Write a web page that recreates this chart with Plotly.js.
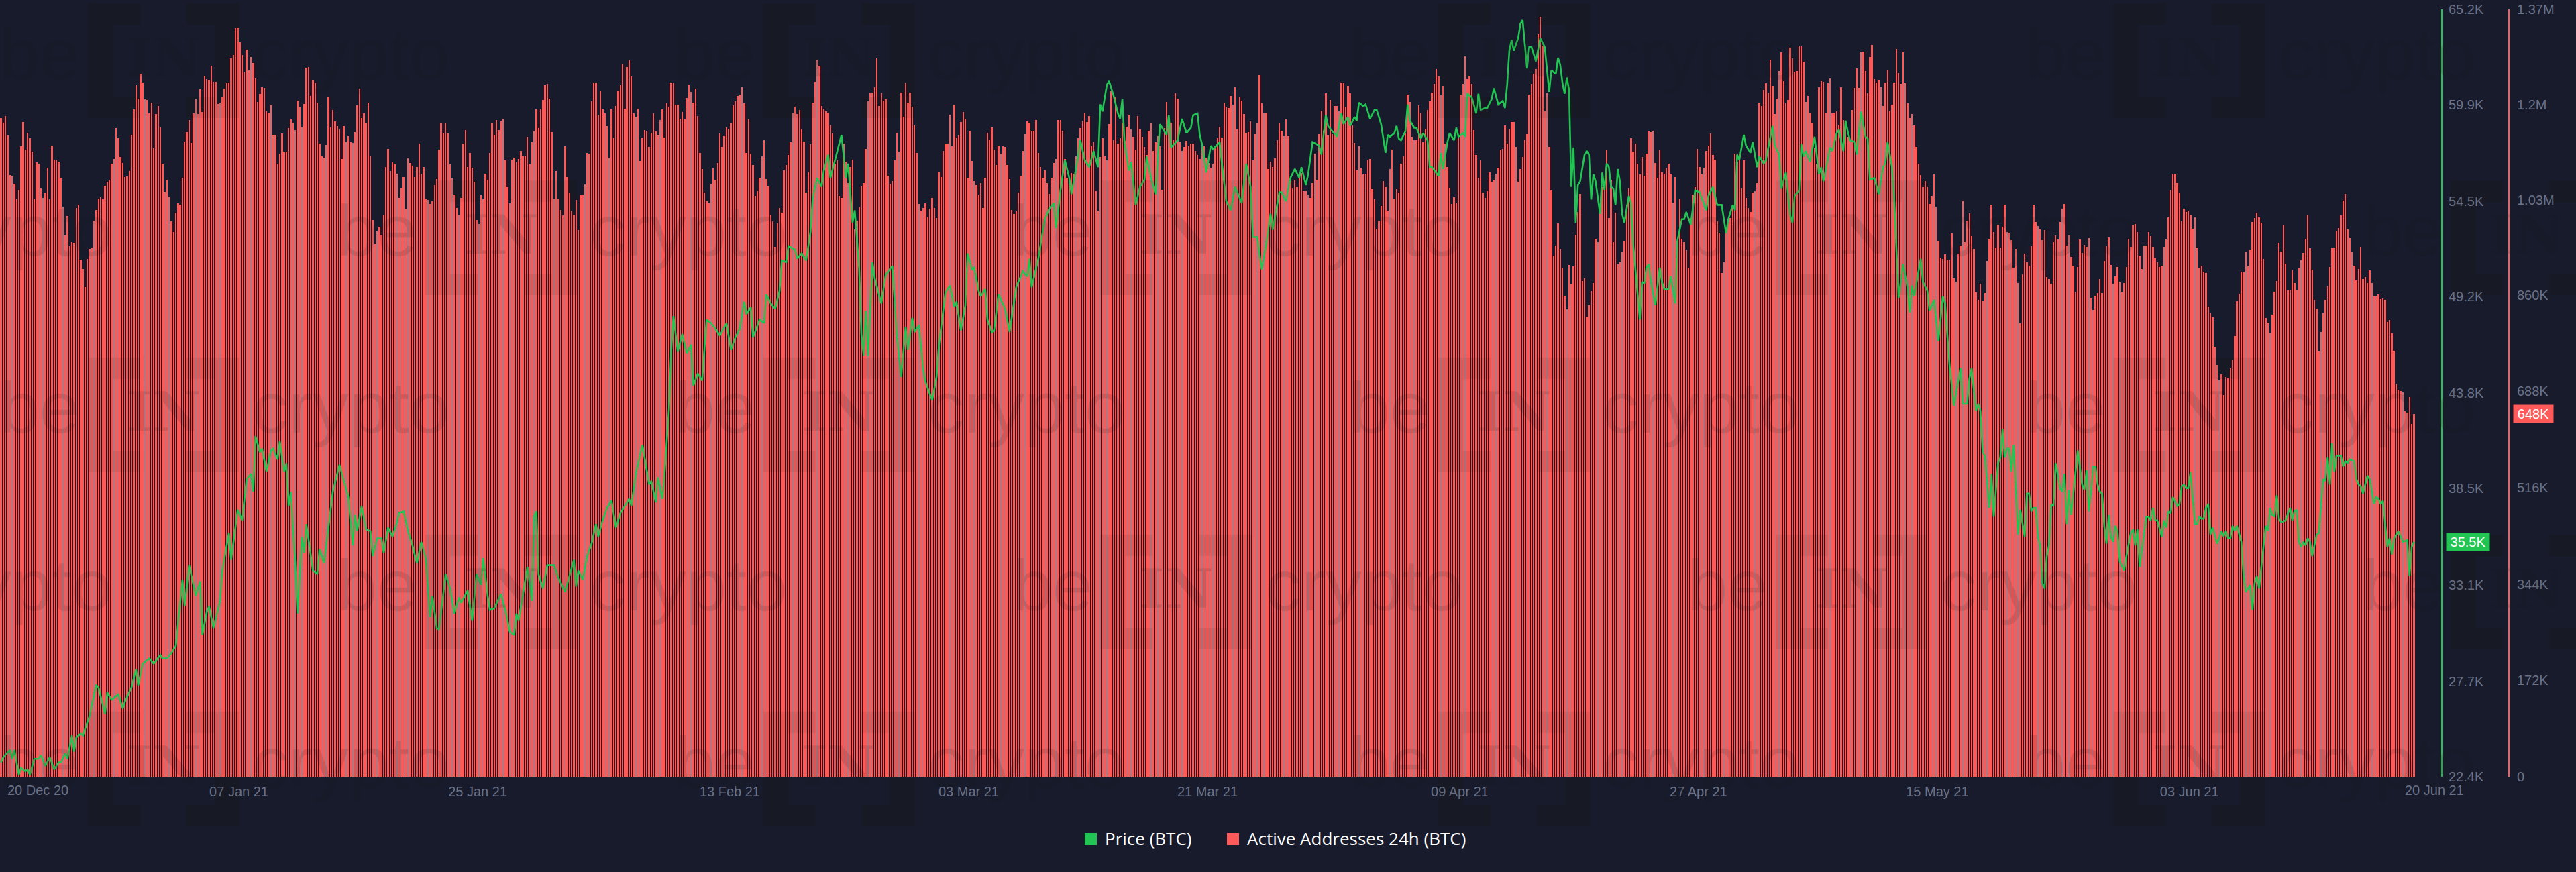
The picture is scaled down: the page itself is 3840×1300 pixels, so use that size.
<!DOCTYPE html>
<html><head><meta charset="utf-8">
<script src="https://cdn.plot.ly/plotly-3.0.1.min.js"></script>
<style>html,body{margin:0;padding:0;background:#171b2c}</style></head>
<body><div id="chart" style="width:3840px;height:1300px"></div>
<script>
const startDate = Date.UTC(2020, 11, 20);
const barHours = 4;
const seriesPrice = "Price (BTC)";
const seriesAddresses = "Active Addresses 24h (BTC)";
const activeAddressesK = [
1176,1168,1180,1145,1074,1073,1059,1031,1048,1126,1169,1120,1150,1140,1116,1031,1097,1094,1050,1033,1042,1087,1031,1127,1101,1102,1098,1069,1017,967,1001,947,954,953,1015,1021,923,906,874,925,942,945,993,1012,1032,1035,1031,1055,1062,1065,1095,1103,1158,1140,1106,1096,1071,1072,1081,1146,1191,1235,1211,1255,1239,1209,1208,1184,1204,1122,1183,1198,1159,1095,1044,1066,1036,992,972,1007,1024,1022,1069,1133,1151,1172,1132,1184,1210,1183,1227,1187,1251,1245,1243,1269,1241,1241,1201,1203,1214,1229,1240,1239,1282,1289,1337,1338,1311,1289,1258,1298,1261,1285,1274,1247,1205,1219,1231,1230,1188,1186,1200,1146,1146,1095,1112,1148,1116,1116,1158,1174,1168,1154,1207,1195,1161,1201,1266,1267,1215,1243,1239,1204,1130,1109,1105,1128,1214,1159,1190,1170,1162,1156,1103,1162,1134,1144,1133,1132,1151,1199,1229,1176,1184,1167,1203,1109,994,951,974,982,966,1004,1089,1121,1081,1097,1095,1077,1034,1052,1071,1013,1104,1096,1091,1071,1089,1130,1076,1088,1032,1030,1023,1028,1056,1067,1120,1167,1148,1166,1148,1093,1068,1039,1015,1003,1033,1131,1155,1089,1114,1087,1062,994,987,1038,1031,1077,1066,1114,1166,1146,1173,1154,1170,1175,1100,1053,1024,1102,1105,1097,1103,1117,1109,1108,1142,1093,1133,1153,1191,1158,1192,1208,1235,1237,1211,1151,1032,1081,1032,1012,1002,1126,1071,1042,1010,1004,1030,976,1038,1040,1058,1114,1113,1206,1239,1239,1181,1224,1191,1184,1162,1105,1191,1140,1197,1224,1235,1272,1193,1267,1279,1250,1184,1178,1193,1099,1140,1154,1152,1124,1150,1184,1152,1146,1172,1191,1141,1202,1195,1239,
1238,1200,1200,1175,1187,1174,1212,1236,1223,1204,1229,1180,1114,1085,1043,1029,1024,1059,1086,1066,1096,1149,1125,1144,1159,1157,1166,1199,1206,1215,1218,1231,1202,1114,1174,1112,1092,1037,1046,1070,1108,1137,1067,1054,1004,991,946,988,1015,1007,1082,1092,1110,1133,1185,1196,1183,1190,1156,1134,1043,1079,1129,1203,1241,1280,1269,1198,1192,1188,1185,1163,1149,1094,1101,1037,1034,1130,1098,1060,1089,1102,977,993,1017,1054,1060,1121,1206,1220,1221,1231,1283,1198,1220,1207,1209,1073,1057,1064,1100,1150,1116,1222,1178,1238,1203,1221,1196,1163,1114,1023,1011,1016,1024,999,1014,1033,1015,997,1080,1071,1117,1130,1130,1182,1126,1200,1141,1145,1169,1187,1175,1070,1153,1099,1063,1056,1038,1060,1015,1070,1150,1138,1159,1120,1092,1127,1113,1126,1124,1092,1067,1012,1005,1009,1043,1073,1117,1147,1170,1168,1153,1153,1173,1114,1088,1069,1082,1060,1041,1070,1096,1103,1172,1173,1153,1103,1069,1057,1078,1077,1108,1140,1158,1170,1185,1169,1179,1126,1133,1046,1009,1107,1140,1108,1101,1165,1224,1137,1213,1130,1140,1167,1135,1160,1182,1156,1142,1119,1179,1156,1142,1125,1110,1153,1167,1117,1133,1144,1126,1048,1158,1205,1167,1168,1136,1220,1211,1133,1117,1124,1135,1126,1131,1131,1117,1110,1103,1124,1126,1105,1096,1087,1094,1126,1140,1160,1141,1204,1195,1194,1215,1199,1231,1156,1214,1207,1183,1150,1151,1170,1101,1147,1166,1253,1202,1185,1185,1085,1098,1089,1104,1137,1167,1153,1144,1174,1144,1063,1050,1066,1053,1071,1078,1046,1046,1038,1034,1060,1112,1066,1147,1189,1153,1220,1145,1208,1147,1197,1197,
1188,1240,1238,1195,1234,1220,1163,1132,1082,1126,1086,1076,1075,1101,1103,1049,1031,978,993,1019,1063,1053,1011,1085,1120,1032,1049,1043,1094,1108,1149,1218,1205,1142,1137,1137,1199,1186,1133,1157,1190,1206,1222,1237,1263,1250,1217,1234,1131,1089,1052,1023,1035,1024,1140,1218,1237,1286,1246,1252,1237,1155,1110,1070,1100,1043,1034,1045,1079,1062,1066,1075,1087,1119,1121,1163,1130,1157,1169,1169,1124,1062,1085,1106,1137,1147,1218,1237,1255,1264,1326,1357,1305,1188,1220,1124,1047,931,948,988,943,908,859,835,914,879,911,968,1008,1041,885,890,822,842,867,882,961,954,1021,1053,1050,1119,998,1066,954,1007,915,919,936,956,1021,1050,1140,1116,1130,1094,1076,1107,1073,1112,1152,1151,1153,1096,1069,1119,1079,1076,1086,1094,1076,1025,1071,956,1032,961,954,940,908,998,1039,1053,1121,1088,1076,1087,1117,1127,1149,1110,1102,992,971,899,919,970,989,998,1021,1112,1098,1112,1050,1101,1034,1015,1008,1043,1046,1060,1204,1197,1226,1238,1220,1280,1233,1183,1211,1260,1293,1242,1202,1208,1302,1283,1257,1260,1304,1304,1277,1205,1215,1185,1167,1122,1094,1231,1242,1241,1186,1238,1247,1184,1185,1188,1163,1231,1172,1167,1142,1137,1190,1230,1265,1230,1293,1295,1260,1220,1285,1307,1245,1240,1243,1231,1197,1240,1262,1188,1200,1240,1299,1256,1237,1295,1238,1202,1176,1183,1163,1124,1094,1074,1053,1064,1053,1023,1037,1076,1017,956,927,924,933,923,922,970,890,883,934,949,1029,954,993,1006,965,943,865,851,880,850,863,921,961,1021,973,945,986,945,982,1022,973,
971,958,909,942,882,809,897,934,918,912,947,1021,990,983,977,958,976,892,888,880,955,967,959,990,1014,1023,948,967,928,912,865,910,959,935,950,946,962,855,834,859,863,888,863,921,947,963,914,880,893,910,884,865,882,910,961,946,984,987,973,931,907,949,949,972,965,946,926,918,910,912,946,959,999,1047,1076,1077,1060,1042,991,1014,1008,1011,1003,979,999,945,908,912,902,899,839,827,820,768,735,708,718,682,714,711,729,745,787,849,862,902,901,936,911,941,990,997,1007,999,989,924,819,811,793,825,866,885,953,938,984,916,868,870,904,882,870,908,923,935,961,1004,944,905,851,836,759,794,827,851,875,910,944,945,975,980,1002,1029,1041,977,962,937,913,886,906,946,888,892,882,904,881,859,858,861,853,854,851,812,815,791,761,701,691,689,686,653,650,678,630,648];
const priceBar = [
0,1,4,5,6,8,9,11,12,13,15,17,18,20,22,24,26,27,29,30,32,33,34,36,37,40,41,43,44,47,48,50,53,55,56,59,61,62,64,67,69,72,73,75,77,79,82,83,85,88,90,91,93,94,96,99,100,103,104,107,109,111,113,114,115,117,118,120,122,123,125,126,128,129,130,131,133,134,136,137,138,141,143,144,146,149,150,153,157,159,160,161,163,165,167,168,170,172,173,175,177,179,180,182,184,186,188,190,192,194,195,197,198,201,203,205,207,208,211,213,215,217,218,220,221,223,226,228,230,232,233,234,238,240,241,242,243,245,247,250,252,255,259,260,261,263,265,267,269,270,272,274,276,278,280,282,284,285,287,290,293,294,296,297,299,300,302,
303,304,306,308,310,312,313,315,317,319,321,323,325,328,330,332,334,336,337,339,340,343,345,346,348,350,352,353,355,356,359,360,362,364,366,367,369,371,372,374,375,378,380,382,383,385,386,388,389,390,391,392,394,395,398,400,403,405,407,409,410,412,413,415,417,418,421,423,424,427,429,431,432,434,436,437,439,440,442,443,445,446,448,449,451,454,456,459,462,464,465,466,469,471,472,474,476,477,479,481,483,484,487,488,490,492,493,494,496,497,498,500,501,503,505,506,507,508,510,511,513,515,517,518,520,522,524,527,528,529,532,534,536,538,539,541,542,543,545,547,548,551,552,554,556,558,561,563,565,566,568,570,572,574,575,578,579,581,583,585,587,588,590,591,593,596,597,599,600,604,
606,607,609,610,612,613,614,616,617,619,621,622,624,626,627,628,630,631,632,633,635,636,637,639,640,642,643,645,646,647,650,651,652,654,655,657,658,659,661,662,663,665,667,668,669,671,672,674,675,677,679,680,681,682,683,684,686,687,688,690,691,692,694,696,698,700,701,703,704,705,706,707,708,709,710,711,712,713,714,715,716,717,718,719,720,721,722,723,724,725,726,727,728,729,730,731,732,733,734,736,737,738,741,742,743,744,745,746,748,750,751,752,754,755,757,758,760,761,762,764,766,768,771,772,774,776,778,780,781,783,784,785,786,788,789,791,792,794,795,797,798,801,802,804,805,807,809,810,811,813,814,815,816,818,820,822,823,824,827,828,830,831,833,834,835,836,838,839,841,843,844,845,847,849,851,852,853,855,856,858,860,862,863,864,865,868,869,871,872,874,876,878,879,881,
883,886,887,889,890,891,893,894,895,896,897,899,900,901,903,904,905,906,907,908,909,910,912,913,915,916,917,918,919,920,921,922,923,924,925,926,927,928,929,931,932,933,934,935,936,939,941,942,943,944,945,946,947,948,949,950,951,952,953,954,955,956,957,958,960,961,963,964,965,966,967,970,971,972,973,974,975,977,978,979,980,981,982,984,985,986,987,988,989,990,992,993,994,995,996,997,998,999,1000,1002,1004,1005,1006,1007,1008,1009,1010,1011,1013,1014,1015,1016,1017,1018,1019,1020,1021,1024,1025,1026,1027,1028,1029,1030,1031,1033,1035,1036,1037,1038,1039,1040,1041,1042,1043,1044,1045,1047,1048,1050,1051,1052,1053,1054,1055,1056,1058,1059,1060,1061,1062,1064,1065,1066,1067,1068,1070,1071,1073,1074,1075,1076,1077,1079,1080,1081,1082,1084,1086,1088,1089,1090,1091];
const priceK = [
23.2,23.5,23.9,23.4,23.9,22.5,22.9,22.7,22.8,22.5,23.4,23.4,23.6,23.0,23.5,22.8,23.2,23.2,23.7,23.4,24.7,23.8,24.6,24.8,24.7,25.8,26.4,27.5,27.4,25.9,27.1,26.7,27.0,26.2,26.6,27.4,28.4,27.5,28.7,29.0,28.7,29.2,29.0,29.0,29.3,29.7,33.4,31.9,34.2,32.5,33.3,30.3,31.6,31.9,30.7,32.2,33.9,36.0,34.5,37.3,36.7,39.0,39.3,38.3,41.4,40.5,40.7,39.4,40.6,40.7,40.1,41.1,39.4,39.9,37.5,38.3,34.3,31.5,35.8,34.9,36.5,33.9,33.7,35.1,34.3,37.4,38.3,39.8,38.0,35.3,37.0,36.1,37.5,36.2,36.1,34.7,35.7,35.7,34.9,36.3,35.8,36.6,37.1,37.2,36.1,35.3,34.3,35.5,34.6,31.3,32.5,30.7,30.6,33.7,32.9,31.5,32.4,32.1,32.8,31.1,33.7,33.1,34.6,32.5,31.7,31.8,32.6,31.7,30.5,30.3,31.5,31.1,34.1,32.2,36.9,37.2,33.7,32.9,34.2,34.2,33.5,32.7,34.5,33.0,33.9,33.4,34.7,35.4,36.5,35.8,36.7,37.4,37.8,36.3,37.1,37.5,37.9,37.5,39.3,40.9,38.7,38.9,37.7,39.1,37.9,39.3,42.9,
46.1,48.1,46.1,47.1,46.0,46.5,44.2,44.9,44.5,47.9,47.7,47.4,47.0,47.7,46.2,46.9,47.4,48.9,48.2,48.6,46.9,47.9,47.7,49.3,48.8,48.5,49.5,51.2,51.1,52.0,51.8,51.3,51.6,51.2,52.8,54.7,55.8,55.3,56.2,57.1,55.8,57.3,58.2,55.8,56.6,53.3,54.0,50.7,47.1,45.9,48.4,45.9,51.1,50.2,48.8,50.4,50.9,47.0,44.7,47.5,46.2,48.0,47.2,47.6,45.1,44.4,43.4,44.7,46.4,49.4,49.8,48.6,48.9,47.3,48.7,51.6,50.7,50.8,49.5,49.2,49.6,47.9,47.2,47.3,49.3,48.5,47.2,49.7,50.6,50.3,51.3,49.7,51.3,52.8,53.5,54.1,54.4,53.0,55.1,56.8,55.8,54.9,57.0,57.9,56.8,56.4,56.9,57.3,56.4,59.9,59.5,61.0,61.2,60.4,59.4,59.1,60.2,57.7,56.2,56.7,54.3,55.3,55.7,57.0,55.8,54.9,58.8,58.2,59.3,57.5,57.9,59.1,58.3,58.6,59.3,59.4,58.2,57.7,56.1,57.6,57.4,57.8,56.6,54.5,54.0,55.3,54.4,56.6,55.3,52.5,52.5,50.7,52.1,53.8,52.9,55.0,55.0,54.5,55.8,56.3,55.8,56.4,55.4,56.0,57.8,57.6,57.1,59.3,58.7,58.1,
59.4,58.8,59.2,58.7,59.2,59.0,60.0,59.8,59.9,59.1,59.6,59.6,58.8,57.2,58.2,58.1,58.3,58.7,58.0,57.9,58.4,59.9,59.0,58.6,58.6,58.0,58.3,57.9,56.4,56.4,55.9,57.2,56.3,57.8,58.3,57.9,58.6,58.1,58.3,58.1,60.5,60.3,59.4,60.5,59.6,59.7,59.7,60.2,60.8,59.9,60.1,59.7,61.0,62.9,63.5,62.9,63.6,64.4,64.6,61.9,63.1,63.1,62.3,63.6,63.1,60.6,61.8,61.6,62.5,62.1,61.1,60.5,61.4,60.7,55.3,57.5,53.3,55.4,55.6,56.4,57.1,57.3,57.1,54.6,56.0,55.6,54.7,53.8,56.1,55.1,56.6,56.4,55.3,55.2,54.3,56.3,55.6,53.8,53.3,54.8,54.4,52.1,47.9,50.0,49.9,50.8,51.0,50.0,48.7,50.8,50.0,49.6,49.6,50.3,48.8,52.3,53.5,53.5,53.9,53.2,55.1,55.0,54.0,54.8,55.3,54.3,54.3,52.7,53.5,54.3,54.0,57.1,56.8,58.2,57.6,57.2,57.8,56.4,57.0,56.6,56.8,58.7,57.6,57.1,55.2,56.1,53.7,53.3,54.8,55.1,57.7,57.0,57.3,56.7,58.1,56.0,56.4,55.6,57.5,57.3,58.3,58.5,57.3,59.0,58.4,57.9,57.8,57.1,59.5,58.1,58.0,55.7,55.8,54.9,56.4,56.6,57.8,56.4,54.7,49.1,51.0,49.7,48.3,49.8,49.2,51.3,50.0,49.5,48.4,49.0,46.7,49.2,48.8,45.4,
43.1,45.2,43.2,43.2,44.6,45.2,42.8,43.2,42.8,40.5,40.3,37.4,39.3,36.9,39.9,40.2,41.8,40.2,40.7,40.7,39.4,40.9,35.9,37.3,35.8,38.2,38.2,37.2,37.4,37.4,35.8,35.3,33.2,32.9,34.7,35.3,37.6,37.5,39.9,38.5,38.3,39.3,36.5,38.4,37.0,40.6,38.7,38.4,39.5,37.2,38.3,39.7,39.7,38.7,38.3,38.2,36.4,35.4,37.0,35.8,35.5,36.4,36.1,34.4,33.9,34.7,36.0,36.2,35.3,36.2,34.1,36.9,36.9,36.7,37.4,36.7,36.7,35.8,36.7,36.3,37.2,37.1,38.0,37.5,37.6,38.6,38.7,38.5,38.5,39.4,36.5,36.5,36.9,36.8,36.8,37.4,37.6,35.9,36.3,35.4,36.1,35.8,36.1,35.7,35.7,36.4,36.1,36.4,35.5,33.6,32.7,32.9,33.1,31.7,33.2,33.6,32.9,36.4,36.1,37.4,37.0,36.9,38.1,36.8,36.6,36.7,37.4,36.7,37.2,37.3,35.5,35.2,35.5,35.3,35.7,35.5,34.7,35.9,36.0,39.0,38.9,40.2,38.7,41.0,39.4,40.3,40.3,39.7,40.0,39.9,40.1,40.0,39.0,38.7,38.6,38.2,39.2,39.0,37.6,38.0,37.9,37.6,37.8,35.2,35.7,34.8,35.7,36.1,35.5,35.6,33.6,35.2,35.5];
const priceTicksK = [22.4,27.7,33.1,38.5,43.8,49.2,54.5,59.9,65.2];
const priceTickLabels = ["22.4K","27.7K","33.1K","38.5K","43.8K","49.2K","54.5K","59.9K","65.2K"];
const addressTicksK = [0,172,344,516,688,860,1030,1200,1370];
const addressTickLabels = ["0","172K","344K","516K","688K","860K","1.03M","1.2M","1.37M"];
const dateTicks = ["2021-01-07","2021-01-25","2021-02-13","2021-03-03","2021-03-21","2021-04-09","2021-04-27","2021-05-15","2021-06-03"];
const dateTickLabels = ["07 Jan 21","25 Jan 21","13 Feb 21","03 Mar 21","21 Mar 21","09 Apr 21","27 Apr 21","15 May 21","03 Jun 21"];
const firstDateLabel = "20 Dec 20", lastDateLabel = "20 Jun 21";
const lastPriceLabel = "35.5K", lastAddressLabel = "648K";

const GREEN = "#22c553", RED = "#ff5a5a", BG = "#171b2c", TICK = "#6b7288";
const W = 3840, H = 1300, L = 0, R = 3740, T = 14, B = 1158;
const px = x => (x - L) / (R - L), py = y => (B - y) / (B - T);
const hourMs = 3600000;
const barTime = i => new Date(startDate + (i + 0.5) * barHours * hourMs).toISOString();

const annotations = [], shapes = [];
function note(text, x, y, size, color, family, anchor) {
  annotations.push({text, xref: "paper", yref: "paper", x: px(x), y: py(y), showarrow: false,
    xanchor: anchor || "left", yanchor: "middle", font: {size, color, family}});
}
const WM_TEXT = "rgba(25,25,15,0.12)", WM_BACK = "rgba(25,25,15,0.16)", WM_FRONT = "rgba(25,25,15,0.07)";
function bracket(x0, x1, y0, y1, dir) {
  const s = 37, a = 32;
  const P = (x, y) => px(x) + "," + py(y);
  const [o, i, e] = dir > 0 ? [x0, x0 + s, x1] : [x1, x1 - s, x0];
  const path = "M" + P(o, y0) + "L" + P(e, y0) + "L" + P(e, y0 + a) + "L" + P(i, y0 + a) + "L" + P(i, y1 - a) + "L" + P(e, y1 - a) + "L" + P(e, y1) + "L" + P(o, y1) + "Z";
  [["below", WM_BACK], ["above", WM_FRONT]].forEach(([layer, fillcolor]) =>
    shapes.push({type: "path", xref: "paper", yref: "paper", layer, line: {width: 0}, fillcolor, path}));
}
function logo(x, r) {
  const y = 264 * r;
  if (x > -200) note("be", x - 3, y + 80, 108, WM_TEXT, "Liberation Sans");
  if (x + 131 < W && x > -250) {
    bracket(x + 131, x + 209, y + 5, y + 176, 1);
    bracket(x + 278, x + 357, y + 5, y + 176, -1);
    note("<b>IN</b>", x + 244, y + 86, 80, WM_TEXT, "DejaVu Serif", "center");
  }
  if (x + 376 < W) note("crypto", x + 374, y + 80, 108, WM_TEXT, "Liberation Sans");
}
for (let r = 0; r < 5; r++) for (let k = -1; k < 4; k++) logo(k * 1006.5 + (r % 2 ? 503 : 0), r);

note(firstDateLabel, 9, 1178, 20, TICK, "Liberation Sans");
note(lastDateLabel, 3675, 1178, 20, TICK, "Liberation Sans", "right");
note(seriesPrice, 1645, 1250, 26, "#ffffff", "Open Sans");
note(seriesAddresses, 1857, 1250, 26, "#ffffff", "Open Sans");
[[1617, GREEN], [1829, RED]].forEach(([x, c]) => shapes.push({type: "rect", xref: "paper", yref: "paper",
  x0: px(x), x1: px(x + 18), y0: py(1260), y1: py(1242), fillcolor: c, line: {width: 0}}));
annotations.push({text: lastPriceLabel, xref: "paper", yref: "y2", x: px(3646), y: priceK[priceK.length - 1],
  xanchor: "left", yanchor: "middle", showarrow: false, bgcolor: GREEN, width: 62, height: 24, borderpad: 1,
  font: {size: 20, color: "#fff", family: "Liberation Sans"}});
annotations.push({text: lastAddressLabel, xref: "paper", yref: "y", x: px(3746), y: activeAddressesK[activeAddressesK.length - 1],
  xanchor: "left", yanchor: "middle", showarrow: false, bgcolor: RED, width: 57, height: 24, borderpad: 1,
  font: {size: 20, color: "#fff", family: "Liberation Sans"}});

const bars = {type: "bar", name: seriesAddresses, x: activeAddressesK.map((_, i) => barTime(i)), y: activeAddressesK,
  width: barHours * hourMs * 0.73, marker: {color: "rgba(255,90,90,0.99)", line: {width: 0}}, yaxis: "y", hoverinfo: "skip"};
const line = {type: "scatter", mode: "lines", name: seriesPrice, x: priceBar.map(barTime), y: priceK,
  line: {color: GREEN, width: 2.6}, yaxis: "y2", hoverinfo: "skip"};
const axisFont = {size: 20, color: TICK, family: "Liberation Sans"};
const greenEdge = 3640 / R;
const layout = {
  width: W, height: H, margin: {l: L, r: W - R, t: T, b: H - B, pad: 0}, showlegend: false,
  paper_bgcolor: BG, plot_bgcolor: BG, bargap: 0, hovermode: false,
  xaxis: {type: "date", domain: [0, greenEdge], range: [new Date(startDate).toISOString(), new Date(startDate + 3640 / 3.2967 * barHours * hourMs).toISOString()],
    tickvals: dateTicks, ticktext: dateTickLabels, tickfont: axisFont, showgrid: false, zeroline: false, showline: false, ticks: "", ticklabelstandoff: 8},
  yaxis: {side: "right", anchor: "free", position: 1, range: [0, 1370], tickvals: addressTicksK, ticktext: addressTickLabels,
    tickfont: axisFont, showgrid: false, zeroline: false, showline: true, linecolor: RED, linewidth: 2, ticks: "", ticklabelstandoff: 7},
  yaxis2: {side: "right", overlaying: "y", anchor: "free", position: greenEdge, range: [22.4, 65.2], tickvals: priceTicksK, ticktext: priceTickLabels,
    tickfont: axisFont, showgrid: false, zeroline: false, showline: true, linecolor: GREEN, linewidth: 2, ticks: "", ticklabelstandoff: 5},
  annotations, shapes
};
Plotly.newPlot("chart", [bars, line], layout, {displayModeBar: false, staticPlot: true});
</script></body></html>
